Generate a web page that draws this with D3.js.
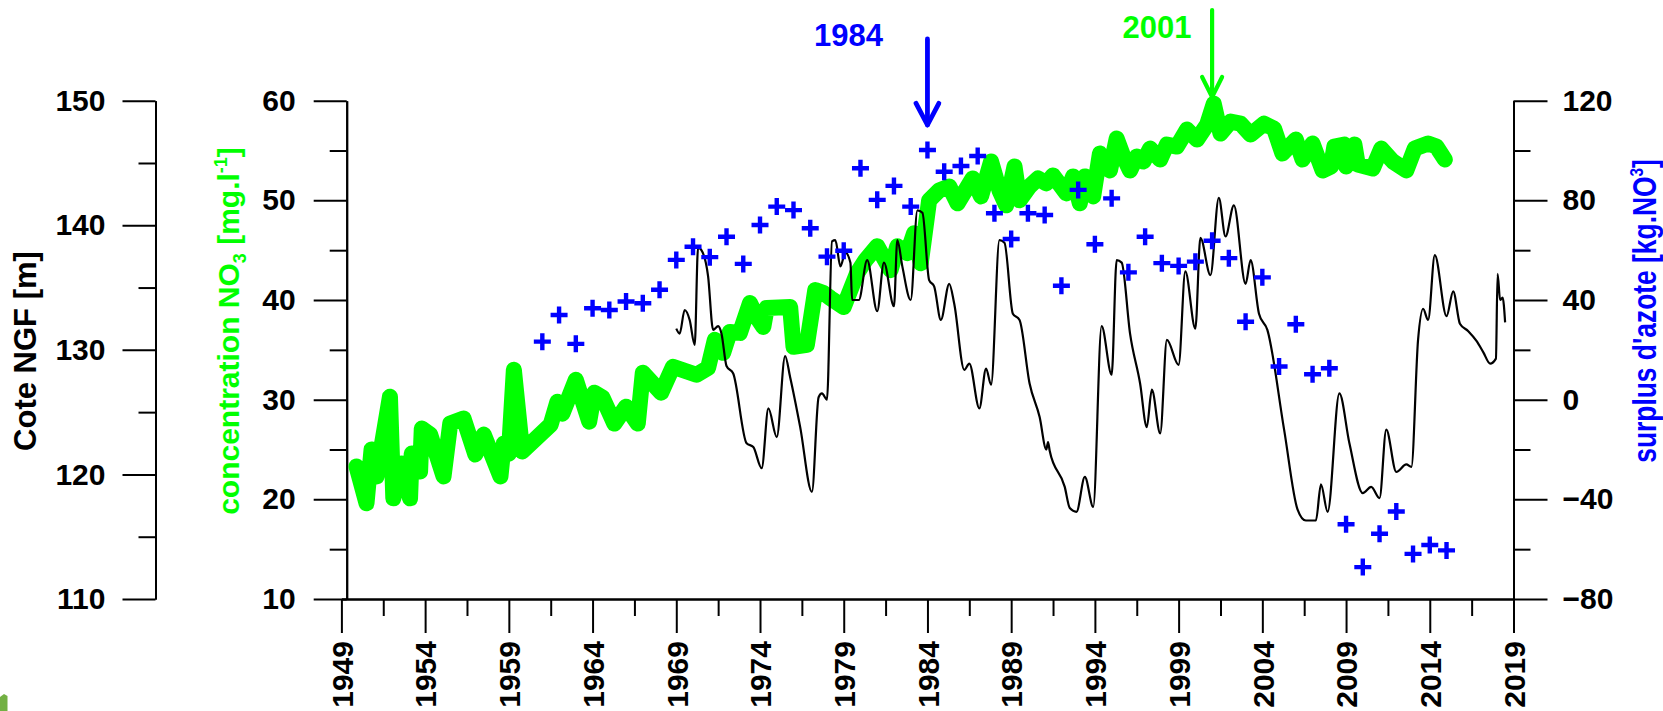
<!DOCTYPE html>
<html>
<head>
<meta charset="utf-8">
<script src="https://cdn.jsdelivr.net/npm/d3@7"></script>
<style>
  html, body { margin: 0; padding: 0; background: #ffffff; }
  svg { display: block; }
  text { font-family: "Liberation Sans", Arial, sans-serif; font-weight: bold; }
</style>
</head>
<body>
<svg id="chart" width="1663" height="711"></svg>
<script>
// ---- Nitrogen surplus, one value per year [kg.NO3] ----
const surplusYears = d3.range(1961, 2016);
const surplusValues = [
  23.3, 34.0, 22.4, 36.7, 36.0, 39.4, 38.7, 44.1, 56.1, 61.4,
  57.2, 65.4, 54.5, 70.1, 77.5, 76.1, 68.8, 57.4, 59.8, 92.9,
  80.2, 85.8, 77.5, 100.2, 91.5, 93.8, 97.8, 74.8, 64.5, 74.8,
  74.1, 45.7, 84.2, 62.4, 80.8, 51.1, 65.4, 54.8, 53.7, 55.4,
  63.8, 56.8, 31.3, 49.1, 13.3, 30.3, 10.2, 12.6, -50.0, -67.2,
  -53.8, -44.9, -61.9, -58.3, -60.5
];

// ---- Nitrate concentration [mg/l] ----
const no3Dates = [
  1949.9, 1950.5, 1950.8, 1951.1, 1951.9, 1952.1, 1952.6, 1953.1, 1953.2, 1953.7,
  1953.8, 1954.3, 1955.1, 1955.5, 1956.3, 1957.0, 1957.5, 1958.5, 1958.7, 1959.0,
  1959.3, 1959.8, 1961.5, 1961.9, 1962.2, 1963.0, 1963.8, 1964.1, 1964.6, 1965.3,
  1966.0, 1966.7, 1967.0, 1968.1, 1968.8, 1970.2, 1970.9, 1971.3, 1971.8, 1972.2,
  1972.8, 1973.4, 1973.8, 1974.2, 1974.4, 1975.8, 1976.0, 1976.8, 1977.3, 1977.8,
  1978.2, 1979.0, 1979.8, 1980.3, 1981.0, 1981.8, 1982.2, 1982.8, 1983.2, 1983.6,
  1984.1, 1984.7, 1985.3, 1985.8, 1986.7, 1987.2, 1987.8, 1988.3, 1988.7, 1989.2,
  1989.5, 1990.1, 1990.6, 1991.1, 1991.5, 1992.3, 1992.7, 1993.1, 1993.4, 1993.9,
  1994.3, 1994.9, 1995.3, 1995.7, 1996.1, 1996.5, 1996.9, 1997.3, 1997.9, 1998.3,
  1998.9, 1999.5, 2000.1, 2000.7, 2001.1, 2001.5, 2002.1, 2002.7, 2003.3, 2004.1,
  2004.7, 2005.2, 2006.0, 2006.4, 2007.0, 2007.6, 2008.1, 2008.3, 2008.9, 2009.0,
  2009.5, 2009.7, 2010.6, 2011.1, 2011.8, 2012.6, 2013.1, 2013.9, 2014.4, 2014.9
];
const no3Values = [
  23.3, 19.6, 25.0, 22.3, 30.3, 20.1, 23.6, 20.1, 24.6, 22.8,
  27.1, 26.5, 22.3, 27.6, 28.1, 24.5, 26.5, 22.3, 25.6, 24.6,
  33.0, 24.8, 27.5, 29.8, 28.6, 32.0, 27.8, 30.7, 30.2, 27.6,
  29.3, 27.6, 32.7, 30.7, 33.3, 32.5, 33.2, 36.0, 34.7, 36.8,
  36.7, 39.7, 38.3, 37.3, 39.2, 39.3, 35.3, 35.5, 41.0, 40.7,
  40.2, 39.3, 42.7, 44.0, 45.4, 43.0, 45.4, 44.7, 46.7, 43.7,
  50.0, 51.0, 51.4, 49.7, 52.2, 50.4, 53.9, 51.0, 49.5, 53.4,
  50.0, 51.4, 52.2, 51.7, 52.5, 50.7, 52.4, 49.7, 52.4, 50.4,
  54.7, 53.0, 56.2, 54.4, 53.0, 54.4, 53.9, 55.2, 54.1, 55.6,
  55.4, 57.1, 56.1, 57.6, 59.7, 56.7, 57.9, 57.7, 56.6, 57.7,
  57.2, 54.7, 56.1, 54.1, 55.7, 53.0, 53.4, 55.4, 55.6, 53.4,
  55.6, 53.6, 53.2, 55.2, 53.9, 53.0, 55.2, 55.7, 55.4, 54.1
];

// ---- Groundwater level, Cote NGF [m] ----
const levelDates = [
  1969.0, 1969.2, 1969.5, 1969.8, 1970.1, 1970.3, 1970.5, 1970.9, 1971.2, 1971.5,
  1971.7, 1972.0, 1972.4, 1973.2, 1973.6, 1974.1, 1974.5, 1975.0, 1975.5, 1975.8,
  1976.4, 1977.1, 1977.5, 1977.7, 1978.0, 1978.3, 1978.5, 1978.8, 1979.1, 1979.4,
  1979.5, 1979.9, 1980.4, 1981.0, 1981.4, 1982.0, 1982.2, 1982.5, 1983.0, 1983.4,
  1983.7, 1984.1, 1984.4, 1984.8, 1985.3, 1985.6, 1986.2, 1986.5, 1987.1, 1987.5,
  1987.8, 1988.3, 1988.6, 1989.1, 1989.5, 1990.1, 1990.7, 1991.1, 1991.2, 1991.3,
  1992.2, 1992.5, 1992.9, 1993.4, 1993.9, 1994.4, 1995.0, 1995.3, 1995.6, 1996.1,
  1996.7, 1997.1, 1997.4, 1997.9, 1998.3, 1999.0, 1999.4, 2000.0, 2000.3, 2000.9,
  2001.4, 2001.8, 2002.3, 2003.0, 2003.3, 2003.8, 2004.3, 2005.3, 2006.1, 2006.6,
  2007.2, 2007.5, 2007.9, 2008.6, 2009.2, 2010.0, 2010.5, 2011.0, 2011.4, 2012.0,
  2012.6, 2012.9, 2013.3, 2013.6, 2013.9, 2014.3, 2015.0, 2015.4, 2015.8, 2016.3,
  2016.8, 2017.2, 2017.6, 2017.95, 2018.05, 2018.2, 2018.35, 2018.5
];
const levelValues = [
  131.7, 131.3, 133.2, 132.4, 130.4, 138.2, 138.0, 135.9, 131.6, 131.9,
  131.3, 128.7, 128.1, 122.5, 122.2, 120.5, 125.3, 123.0, 129.5, 127.8,
  123.8, 118.6, 126.2, 126.5, 126.0, 138.7, 138.8, 136.7, 137.8, 137.0,
  134.0, 134.0, 137.2, 133.1, 137.0, 133.5, 138.8, 136.7, 134.0, 141.2,
  141.0, 135.6, 135.1, 132.4, 135.3, 133.7, 128.4, 128.9, 125.3, 128.5,
  127.2, 138.8, 138.6, 132.9, 132.4, 127.3, 124.6, 122.0, 122.6, 121.9,
  119.0, 117.3, 117.0, 119.8, 117.4, 131.9, 128.0, 137.2, 137.0, 131.3,
  127.3, 123.8, 126.8, 123.3, 130.8, 128.8, 136.3, 131.7, 139.0, 136.0,
  142.2, 139.1, 141.6, 135.3, 137.2, 132.9, 131.6, 123.6, 117.2, 116.3,
  116.3, 119.2, 117.0, 126.5, 122.5, 118.5, 119.0, 118.1, 123.6, 120.2,
  120.8, 120.6, 130.8, 133.3, 132.4, 137.6, 132.7, 134.7, 132.1, 131.5,
  130.7, 129.8, 128.9, 129.3, 136.1, 134.0, 134.2, 132.2
];

// ---- Axis ticks ----
const yearTicks = [1949, 1954, 1959, 1964, 1969, 1974, 1979, 1984, 1989, 1994, 1999, 2004, 2009, 2014, 2019];
const coteTicks = [110, 120, 130, 140, 150];
const no3Ticks = [10, 20, 30, 40, 50, 60];
const surplusTicks = [-80, -40, 0, 40, 80, 120];

// ---- Annotated turning points ----
const markerYears = [1984, 2001];
const markerLabels = ["1984", "2001"];

const GREEN = "#00ff00";
const BLUE = "#0000ff";

const svg = d3.select("#chart");

const plotTop = 100.7, plotBottom = 599;
const x = d3.scaleLinear().domain([1949, 2019]).range([341.4, 1513.5]);
const yNo3 = d3.scaleLinear().domain([10, 60]).range([plotBottom, plotTop]);
const yCote = d3.scaleLinear().domain([110, 150]).range([plotBottom, plotTop]);
const ySurplus = d3.scaleLinear().domain([-80, 120]).range([plotBottom, plotTop]);

const axisX = { cote: 155.5, no3: 346.7, surplus: 1513.5 };

function styleAxis(g) {
  g.selectAll("path.domain").attr("stroke", "#000").attr("stroke-width", 2);
  g.selectAll(".tick line").attr("stroke", "#000").attr("stroke-width", 2);
  g.selectAll("text").attr("fill", "#000").style("font-size", "30px")
    .style("font-family", '"Liberation Sans", Arial, sans-serif').style("font-weight", "bold");
}

function midpoints(ticks) {
  const out = [];
  for (let i = 0; i < ticks.length - 1; i++) out.push((ticks[i] + ticks[i + 1]) / 2);
  return out;
}

// Left axis: Cote NGF
svg.append("g").attr("transform", `translate(${axisX.cote},0)`)
  .call(d3.axisLeft(yCote).tickValues(midpoints(coteTicks)).tickSize(17).tickSizeOuter(0).tickFormat(""))
  .call(styleAxis);
svg.append("g").attr("transform", `translate(${axisX.cote},0)`)
  .call(d3.axisLeft(yCote).tickValues(coteTicks).tickSize(33).tickSizeOuter(0).tickPadding(17).tickFormat(d3.format("d")))
  .call(styleAxis);

// Second left axis: NO3 concentration
svg.append("g").attr("transform", `translate(${axisX.no3},0)`)
  .call(d3.axisLeft(yNo3).tickValues(midpoints(no3Ticks)).tickSize(17).tickSizeOuter(0).tickFormat(""))
  .call(styleAxis);
svg.append("g").attr("transform", `translate(${axisX.no3},0)`)
  .call(d3.axisLeft(yNo3).tickValues(no3Ticks).tickSize(33).tickSizeOuter(0).tickPadding(18).tickFormat(d3.format("d")))
  .call(styleAxis);

// Right axis: nitrogen surplus
svg.append("g").attr("transform", `translate(${axisX.surplus},0)`)
  .call(d3.axisRight(ySurplus).tickValues(midpoints(surplusTicks)).tickSize(17).tickSizeOuter(0).tickFormat(""))
  .call(styleAxis);
svg.append("g").attr("transform", `translate(${axisX.surplus},0)`)
  .call(d3.axisRight(ySurplus).tickValues(surplusTicks).tickSize(34).tickSizeOuter(0).tickPadding(15).tickFormat(d3.format("d")))
  .call(styleAxis);

// Bottom axis: years, labels rotated
svg.append("g").attr("transform", `translate(0,${plotBottom})`)
  .call(d3.axisBottom(x).tickValues(midpoints(yearTicks)).tickSize(17).tickSizeOuter(0).tickFormat(""))
  .call(styleAxis);
const xAxis = svg.append("g").attr("transform", `translate(0,${plotBottom})`)
  .call(d3.axisBottom(x).tickValues(yearTicks).tickSize(34).tickSizeOuter(0).tickFormat(d3.format("d")))
  .call(styleAxis);
xAxis.selectAll(".tick text")
  .attr("transform", "rotate(-90)")
  .attr("x", -42).attr("y", 0).attr("dy", "0.36em")
  .style("text-anchor", "end");

// Axis titles
svg.append("text")
  .attr("transform", "translate(35.5,351) rotate(-90)")
  .attr("text-anchor", "middle").style("font-size", "31px").attr("fill", "#000")
  .text("Cote NGF [m]");

const no3Title = svg.append("text")
  .attr("transform", "translate(239,331) rotate(-90)")
  .attr("text-anchor", "middle").style("font-size", "30px").attr("fill", GREEN);
no3Title.append("tspan").text("concentration NO");
no3Title.append("tspan").text("3").style("font-size", "18px").attr("dy", 7);
no3Title.append("tspan").text(" [mg.l").attr("dy", -7);
no3Title.append("tspan").text("-1").style("font-size", "18px").attr("dy", -12);
no3Title.append("tspan").text("]").attr("dy", 12);

const surplusTitle = svg.append("text")
  .attr("transform", "translate(1656,311) rotate(-90) scale(0.8,1)")
  .attr("text-anchor", "middle").style("font-size", "33px").attr("fill", BLUE);
surplusTitle.append("tspan").text("surplus d'azote [kg.NO");
surplusTitle.append("tspan").text("3").style("font-size", "19px").attr("dy", -13);
surplusTitle.append("tspan").text("]").attr("dy", 13);

// NO3 concentration (thick green line)
const no3Data = no3Dates.map((d, i) => ({ t: d, v: no3Values[i] }));
svg.append("path")
  .datum(no3Data)
  .attr("fill", "none")
  .attr("stroke", GREEN)
  .attr("stroke-width", 16)
  .attr("stroke-linejoin", "round")
  .attr("stroke-linecap", "round")
  .attr("d", d3.line().x(d => x(d.t)).y(d => yNo3(d.v)));

// Groundwater level (thin black line)
const levelData = levelDates.map((d, i) => ({ t: d, v: levelValues[i] }));
svg.append("path")
  .datum(levelData)
  .attr("fill", "none")
  .attr("stroke", "#000")
  .attr("stroke-width", 2.2)
  .attr("stroke-linejoin", "round")
  .attr("d", d3.line().curve(d3.curveMonotoneX).x(d => x(d.t)).y(d => yCote(d.v)));

// Nitrogen surplus (blue crosses)
const crossArm = 8.5;
svg.append("g").selectAll("path")
  .data(surplusYears.map((yr, i) => ({ t: yr, v: surplusValues[i] })))
  .join("path")
  .attr("transform", d => `translate(${x(d.t)},${ySurplus(d.v)})`)
  .attr("d", `M${-crossArm},0H${crossArm}M0,${-crossArm}V${crossArm}`)
  .attr("stroke", BLUE)
  .attr("stroke-width", 4.4)
  .attr("fill", "none");

// Arrows marking the two turning points
const arrowSpecs = [
  { color: BLUE, y0: 39, y1: 125, hw: 11.4, hh: 21.7, sw: 4.8, labelDx: -79, labelY: 46 },
  { color: GREEN, y0: 10, y1: 97, hw: 10, hh: 20, sw: 4.2, labelDx: -55, labelY: 38 }
];
markerYears.forEach((yr, i) => {
  const s = arrowSpecs[i];
  const ax = x(yr);
  const g = svg.append("g").attr("stroke", s.color).attr("stroke-width", s.sw)
    .attr("stroke-linecap", "round").attr("stroke-linejoin", "round").attr("fill", "none");
  g.append("line").attr("x1", ax).attr("x2", ax).attr("y1", s.y0).attr("y2", s.y1);
  g.append("path").attr("d", `M${ax - s.hw},${s.y1 - s.hh}L${ax},${s.y1}L${ax + s.hw},${s.y1 - s.hh}`);
  svg.append("text")
    .attr("x", ax + s.labelDx).attr("y", s.labelY)
    .attr("text-anchor", "middle")
    .style("font-size", "31px")
    .attr("fill", s.color)
    .text(markerLabels[i]);
});

// Small green corner swatch at the lower-left edge
svg.append("path")
  .attr("d", "M0,697 L4,694 L7.5,696 L7.5,711 L0,711 Z")
  .attr("fill", "#72b043");
</script>
</body>
</html>
